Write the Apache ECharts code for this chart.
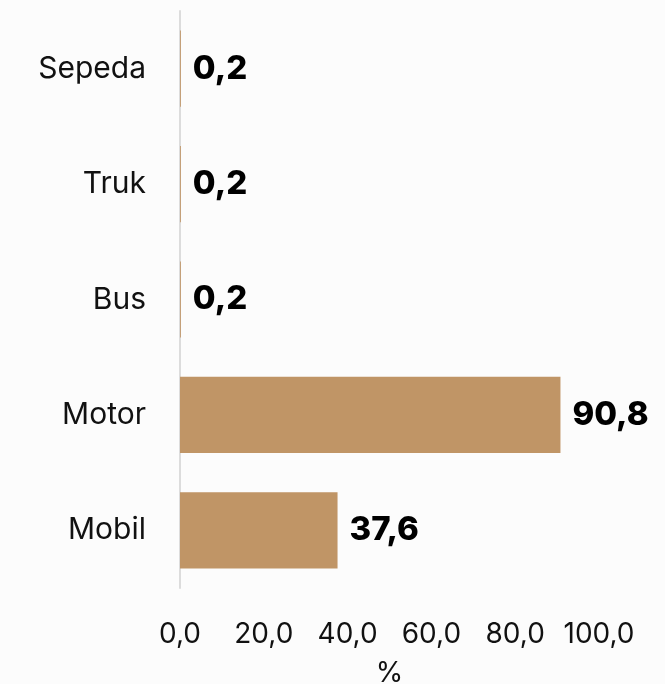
<!DOCTYPE html>
<html>
<head>
<meta charset="utf-8">
<script src="https://cdn.jsdelivr.net/npm/echarts@6/dist/echarts.min.js"></script>
<style>
  html, body { margin: 0; padding: 0; background: #fcfcfc; }
  #main { width: 665px; height: 684px; }
</style>
</head>
<body>
<div id="main"></div>
<script>
// data (bottom to top)
var categories = ['Mobil', 'Motor', 'Bus', 'Truk', 'Sepeda'];
var values = [37.6, 90.8, 0.2, 0.2, 0.2];
var xMin = 0, xMax = 100, xStep = 20;

// angka pakai koma
function koma(v) {
    return v.toFixed(1).replace('.', ',');
}

var myChart = echarts.init(document.getElementById('main'));
var font = 'Inter, "Noto Sans", sans-serif';

var option = {
    backgroundColor: '#fcfcfc',
    animation: false,
    grid: {
        left: 180,
        right: 66,
        top: 11,
        bottom: 96,
        outerBoundsMode: 'none'
    },
    xAxis: {
        type: 'value',
        min: xMin,
        max: xMax,
        interval: xStep,
        name: '%',
        nameLocation: 'middle',
        nameGap: 72,
        nameTextStyle: { color: '#111', fontSize: 28, fontFamily: font },
        axisLine: { show: false },
        axisTick: { show: false },
        splitLine: { show: false },
        axisLabel: {
            margin: 33,
            color: '#111',
            fontSize: 28,
            fontFamily: font,
            formatter: function (v) { return koma(v); }
        }
    },
    yAxis: {
        type: 'category',
        data: categories,
        axisLine: { show: true, lineStyle: { color: '#dcdcdc', width: 2 } },
        axisTick: { show: false },
        axisLabel: {
            margin: 34,
            color: '#111',
            fontSize: 30,
            fontFamily: font
        }
    },
    series: [
        {
            type: 'bar',
            data: values,
            barCategoryGap: '34%',
            itemStyle: { color: '#c09566' },
            label: {
                show: true,
                position: 'right',
                distance: 12,
                color: '#000',
                fontSize: 33,
                fontWeight: 800,
                fontFamily: font,
                formatter: function (p) { return koma(p.value); }
            }
        }
    ]
};
myChart.setOption(option);
</script>
</body>
</html>
